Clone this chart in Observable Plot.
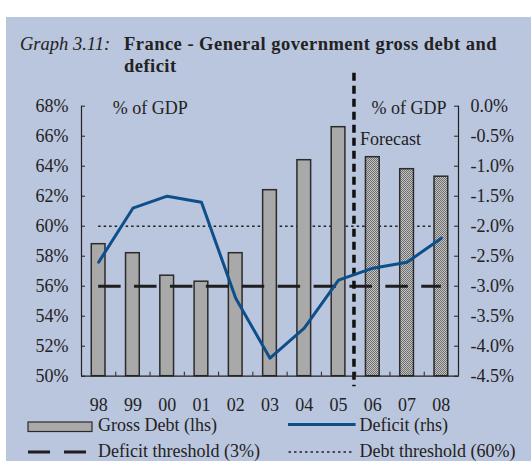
<!DOCTYPE html>
<html><head><meta charset="utf-8">
<script src="https://cdn.jsdelivr.net/npm/d3@7"></script>
<script src="https://cdn.jsdelivr.net/npm/@observablehq/plot@0.6"></script>
<style>
body{margin:0;width:531px;height:461px;position:relative;overflow:hidden;background:#fff;font-family:"Liberation Serif","Times New Roman",serif;color:#222}
#panel{position:absolute;left:6px;top:17px;right:0;bottom:0;background:#BAC5DE}
#chart{position:absolute;left:0;top:0}
.t{position:absolute;white-space:nowrap;font-size:18px;line-height:1}
#overlay{position:absolute;left:0;top:0}
</style></head><body>
<div id="panel"></div>
<svg width="0" height="0" style="position:absolute"><defs>
<pattern id="stip" width="2" height="2" patternUnits="userSpaceOnUse">
<rect width="2" height="2" fill="#c4c4c4"/><rect width="1" height="1" fill="#6e6e6e"/><rect x="1" y="1" width="1" height="1" fill="#6e6e6e"/>
</pattern></defs></svg>
<div id="chart"></div>
<svg id="overlay" width="531" height="461"></svg>
<script>
// ---- data ----
const years = ["98","99","00","01","02","03","04","05","06","07","08"];
const grossDebt = [58.8, 58.2, 56.7, 56.3, 58.2, 62.4, 64.4, 66.6, 64.6, 63.8, 63.3]; // % of GDP (lhs)
const deficit = [-2.6, -1.7, -1.5, -1.6, -3.2, -4.2, -3.7, -2.9, -2.7, -2.6, -2.2];   // % of GDP (rhs)
const firstForecast = 8; // 06 onwards
const leftTicks = [50, 52, 54, 56, 58, 60, 62, 64, 66, 68];
const rightTicks = [-4.5, -4.0, -3.5, -3.0, -2.5, -2.0, -1.5, -1.0, -0.5, 0.0];
const deficitThreshold = -3;
const debtThreshold = 60;

// rhs -> lhs mapping (0% ↔ 68%, -4.5% ↔ 50%)
const rhs = d => 68 + 4 * d;

const data = years.map((y, i) => ({i, year: y, debt: grossDebt[i], def: rhs(deficit[i]), fc: i >= firstForecast}));
const idx = years.map((y, i) => i);
const bounds = idx.slice(1).map(i => i - 0.5);
const divider = firstForecast - 0.55;

const font = {fontSize: 18, fontFamily: "Liberation Serif"};
const none = () => "";

const chart = Plot.plot({
  width: 531, height: 461,
  marginLeft: 81, marginRight: 73, marginTop: 105.7, marginBottom: 85.3,
  style: {background: "transparent", fontFamily: "Liberation Serif", color: "#222", overflow: "visible"},
  x: {domain: [-0.5, years.length - 0.5], label: null},
  y: {domain: [50, 68], label: null},
  marks: [
    Plot.ruleY([debtThreshold], {x1: 0, x2: years.length - 1, stroke: "#222", strokeWidth: 1.5, strokeDasharray: "2.5,3"}),
    Plot.rectY(data.filter(d => !d.fc), {x1: d => d.i - 0.2, x2: d => d.i + 0.2, y1: 50, y2: "debt", fill: "#a9a9a9", stroke: "#2b2b2b", strokeWidth: 1.5}),
    Plot.rectY(data.filter(d => d.fc), {x1: d => d.i - 0.2, x2: d => d.i + 0.2, y1: 50, y2: "debt", fill: "url(#stip)", stroke: "#2b2b2b", strokeWidth: 1.5}),
    Plot.ruleY([rhs(deficitThreshold)], {x1: 0, x2: years.length - 1, stroke: "#1e1e1e", strokeWidth: 3, strokeDasharray: "22.5,13.4"}),
    Plot.ruleX([divider], {y1: 70.2, y2: 49.3, stroke: "#111", strokeWidth: 3.5, strokeDasharray: "8,5"}),
    Plot.line(data, {x: "i", y: "def", stroke: "#0d4f8b", strokeWidth: 3}),
    Plot.ruleX([-0.5, years.length - 0.5], {y1: 50, y2: 68, stroke: "#222", strokeWidth: 1.2}),
    Plot.ruleY([50], {x1: -0.5, x2: years.length - 0.5, stroke: "#222", strokeWidth: 1.2}),
    Plot.axisY(leftTicks, {anchor: "left", label: null, tickSize: -4, tickFormat: none, stroke: "#222"}),
    Plot.axisY(leftTicks, {anchor: "left", label: null, tickSize: 0, tickPadding: 13, tickFormat: d => d + "%", fill: "#222", ...font}),
    Plot.axisY(leftTicks, {anchor: "right", label: null, tickSize: -5, tickFormat: none, stroke: "#222"}),
    Plot.axisY(leftTicks, {anchor: "right", label: null, tickSize: 0, tickPadding: 12, tickFormat: d => rightTicks[leftTicks.indexOf(d)].toFixed(1) + "%", fill: "#222", ...font}),
    Plot.axisX(bounds, {anchor: "bottom", label: null, tickSize: -4, tickFormat: none, stroke: "#222"}),
    Plot.axisX(idx, {anchor: "bottom", label: null, tickSize: 0, tickPadding: 22, tickFormat: i => years[i], fill: "#222", ...font})
  ]
});
document.getElementById("chart").appendChild(chart);

// ---- texts (title, annotations, legend) ----
function put(text, x, baseline, fs, extra) {
  const el = document.createElement("div");
  el.className = "t";
  el.textContent = text;
  el.style.fontSize = fs + "px";
  el.style.left = x + "px";
  el.style.top = (baseline - 0.8375 * fs) + "px";
  Object.assign(el.style, extra || {});
  document.body.appendChild(el);
  return el;
}
put("Graph 3.11:", 20, 50.8, 18.5, {fontStyle: "italic"});
put("France - General government gross debt and", 124, 50.8, 18.5, {fontWeight: "bold", letterSpacing: "0.47px"});
put("deficit", 124, 72.8, 18.5, {fontWeight: "bold", letterSpacing: "0.47px"});
put("% of GDP", 112.7, 114.5, 18);
put("% of GDP", 371.5, 114.5, 18);
put("Forecast", 360, 145, 18);
put("Gross Debt (lhs)", 98, 431, 18);
put("Deficit (rhs)", 359.5, 431, 18);
put("Deficit threshold (3%)", 98, 457.5, 18);
put("Debt threshold (60%)", 359.5, 457.5, 18);

const ov = d3.select("#overlay");
ov.append("rect").attr("x", 28).attr("y", 422).attr("width", 64).attr("height", 9.5).attr("fill", "#a9a9a9").attr("stroke", "#2b2b2b").attr("stroke-width", 1.2);
ov.append("line").attr("x1", 288).attr("x2", 355.6).attr("y1", 424.5).attr("y2", 424.5).attr("stroke", "#0d4f8b").attr("stroke-width", 3);
ov.append("line").attr("x1", 28).attr("x2", 89).attr("y1", 452).attr("y2", 452).attr("stroke", "#1e1e1e").attr("stroke-width", 3).attr("stroke-dasharray", "22,14");
ov.append("line").attr("x1", 288.5).attr("x2", 352).attr("y1", 452).attr("y2", 452).attr("stroke", "#222").attr("stroke-width", 1.5).attr("stroke-dasharray", "2.5,3");
</script>
</body></html>
